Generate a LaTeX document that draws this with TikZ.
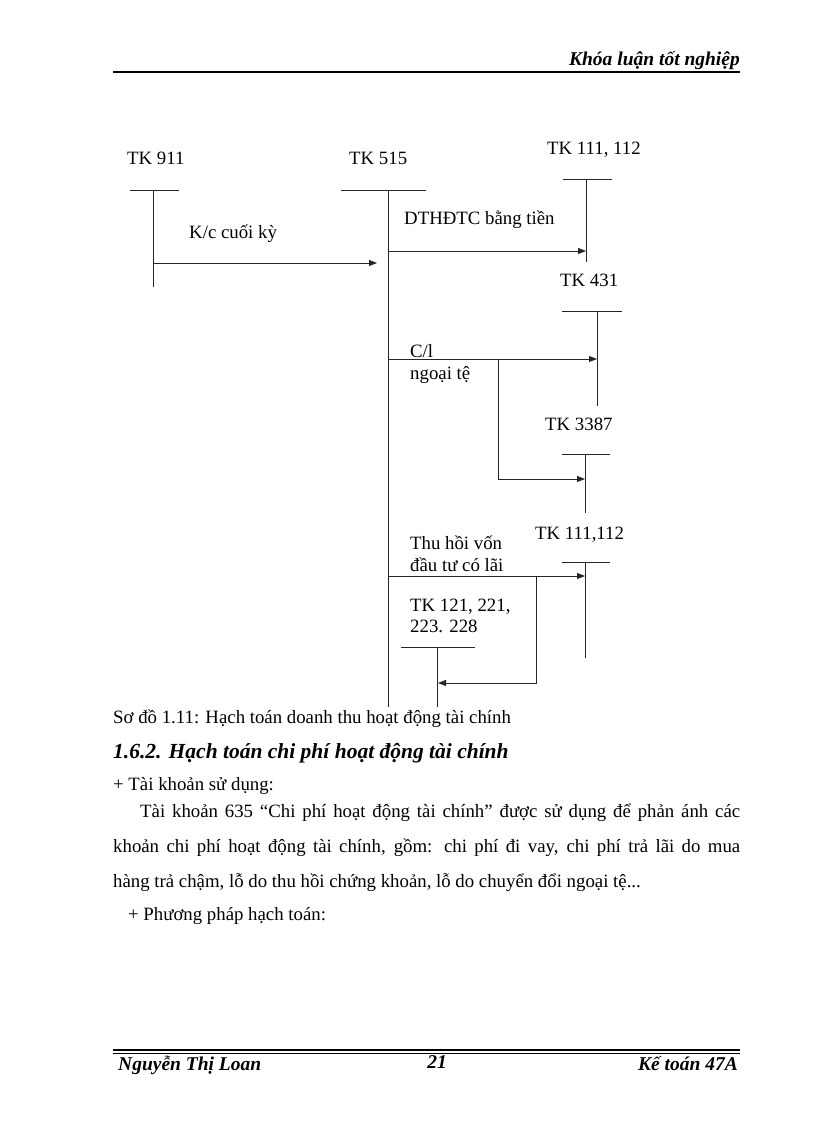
\documentclass[tikz,border=0pt]{standalone}
\usepackage{fontspec}
\setmainfont{Liberation Serif}
\usetikzlibrary{arrows.meta}
\begin{document}
\begin{tikzpicture}[x=1pt,y=-1pt,
  txt/.style={inner sep=0pt, anchor=base west, font=\fontsize{18.8}{22}\selectfont},
  bi/.style={font=\fontsize{19.5}{22}\selectfont\bfseries\itshape},
  tline/.style={line width=0.8pt, draw=black!85},
  arr/.style={line width=0.8pt, draw=black!85, -{Triangle[length=8pt,width=6pt]}},
]
\useasboundingbox (0,0) rectangle (816,1123);

% header
\node[txt, bi, anchor=base east] (hdr) at (740,66) {Khóa luận tốt nghiệp};
\coordinate (hl) at (113,72); \coordinate (hr) at (740,72);
\draw[line width=2pt] (hl) -- (hr);

% TK 911
\node[txt] (l911) at (127,165) {TK 911};
\coordinate (t911a) at (130,190); \coordinate (t911b) at (179,190);
\coordinate (t911) at (153,190); \coordinate (b911) at (153,287);
\draw[tline] (t911a) -- (t911b); \draw[tline] (t911) -- (b911);

% TK 515
\node[txt] (l515) at (349,165) {TK 515};
\coordinate (t515a) at (341,190); \coordinate (t515b) at (426,190);
\coordinate (t515) at (388,190); \coordinate (b515) at (388,707);
\draw[tline] (t515a) -- (t515b); \draw[tline] (t515) -- (b515);

% K/c cuoi ky
\node[txt] (lkc) at (189,239) {K/c cuối kỳ};
\coordinate (kc1) at (153,263); \coordinate (kc2) at (377,263);
\draw[arr] (kc1) -- (kc2);

% TK 111, 112 (top)
\node[txt] (l111) at (547,155) {TK 111, 112};
\coordinate (t111a) at (563,179); \coordinate (t111b) at (612,179);
\coordinate (t111) at (586,179); \coordinate (b111) at (586,262);
\draw[tline] (t111a) -- (t111b); \draw[tline] (t111) -- (b111);

\node[txt] (ldt) at (404,225) {DTHĐTC bằng tiền};
\coordinate (dt1) at (388,251); \coordinate (dt2) at (586,251);
\draw[arr] (dt1) -- (dt2);

% TK 431
\node[txt] (l431) at (560,286) {TK 431};
\coordinate (t431a) at (562,311); \coordinate (t431b) at (622,311);
\coordinate (t431) at (597,311); \coordinate (b431) at (597,406);
\draw[tline] (t431a) -- (t431b); \draw[tline] (t431) -- (b431);

% C/l ngoai te
\node[txt] (lcl) at (410,357) {C/l};
\node[txt] (lnt) at (410,379) {ngoại tệ};
\coordinate (cl1) at (388,359); \coordinate (clj) at (498,359);
\coordinate (cl2) at (597,359); \coordinate (clk) at (498,479);
\coordinate (cl3) at (585,479);
\draw[tline] (cl1) -- (clj);
\draw[arr] (clj) -- (cl2);
\draw[arr] (clj) -- (clk) -- (cl3);

% TK 3387
\node[txt] (l3387) at (545,430) {TK 3387};
\coordinate (t3387a) at (562,454); \coordinate (t3387b) at (610,454);
\coordinate (t3387) at (585,454); \coordinate (b3387) at (585,513);
\draw[tline] (t3387a) -- (t3387b); \draw[tline] (t3387) -- (b3387);

% TK 111,112 (bottom)
\node[txt] (l111b) at (535,539) {TK 111,112};
\coordinate (t111ba) at (562,562); \coordinate (t111bb) at (610,562);
\coordinate (t111b) at (585,562); \coordinate (b111b) at (585,658);
\draw[tline] (t111ba) -- (t111bb); \draw[tline] (t111b) -- (b111b);

\node[txt] (lth1) at (410,549) {Thu hồi vốn};
\node[txt] (lth2) at (410,571) {đầu tư có lãi};
\coordinate (th1) at (388,576); \coordinate (thj) at (536,576);
\coordinate (th2) at (585,576); \coordinate (thk) at (536,683);
\coordinate (th3) at (438,683);
\draw[arr] (th1) -- (th2);
\draw[arr] (thj) -- (thk) -- (th3);

% TK 121, 221, 223, 228
\node[txt] (l121a) at (410,611) {TK 121, 221,};
\node[txt] (l121b) at (410,632) {223. 228};
\coordinate (t121a) at (401,647); \coordinate (t121b) at (475,647);
\coordinate (t121) at (437,647); \coordinate (b121) at (437,707);
\draw[tline] (t121a) -- (t121b); \draw[tline] (t121) -- (b121);

% text body
\node[txt] (cap) at (113,723) {Sơ đồ 1.11: Hạch toán doanh thu hoạt động tài chính};
\node[txt, bi, font=\fontsize{21.5}{22}\selectfont\bfseries\itshape] (h162) at (113,758) {1.6.2. Hạch toán chi phí hoạt động tài chính};
\node[txt] (tksd) at (113,790) {+ Tài khoản sử dụng:};
\node[txt] (p1) at (140,817) {\makebox[600pt][s]{Tài khoản 635 “Chi phí hoạt động tài chính” được sử dụng để phản ánh các}};
\node[txt] (p2) at (113,852) {\makebox[627pt][s]{khoản chi phí hoạt động tài chính, gồm: chi phí đi vay, chi phí trả lãi do mua}};
\node[txt] (p3) at (113,887) {hàng trả chậm, lỗ do thu hồi chứng khoản, lỗ do chuyển đổi ngoại tệ...};
\node[txt] (pp) at (128,920) {+ Phương pháp hạch toán:};

% footer
\coordinate (fl1) at (113,1050); \coordinate (fr1) at (740,1050);
\coordinate (fl2) at (113,1053.5); \coordinate (fr2) at (740,1053.5);
\draw[line width=1.5pt] (fl1) -- (fr1);
\draw[line width=0.6pt] (fl2) -- (fr2);
\node[txt, bi] (fname) at (118,1070) {Nguyễn Thị Loan};
\node[txt, bi, anchor=base] (fpage) at (437,1068) {21};
\node[txt, bi, anchor=base east] (fdept) at (738,1070) {Kế toán 47A};
\end{tikzpicture}
\end{document}
